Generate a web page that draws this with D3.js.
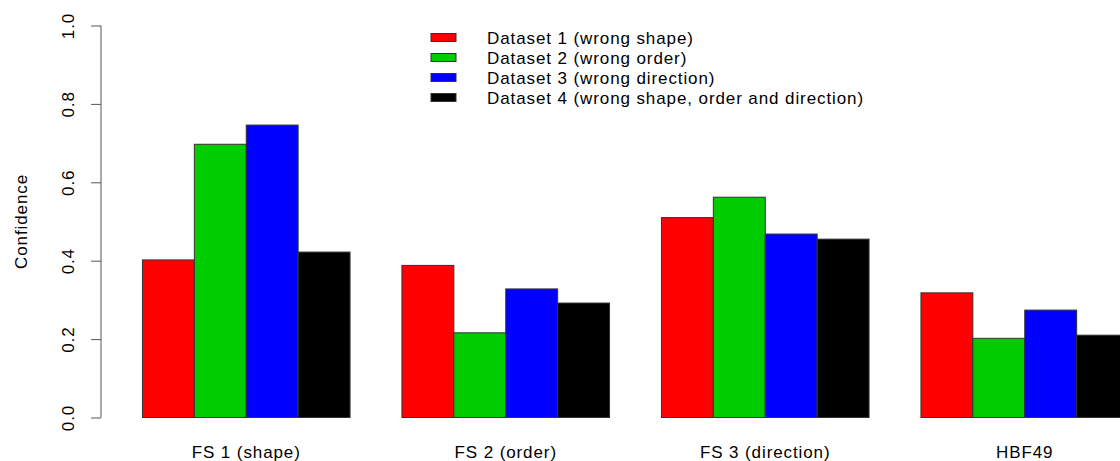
<!DOCTYPE html>
<html>
<head>
<meta charset="UTF-8">
<title>Confidence per feature set</title>
<script type="text/javascript" src="https://cdn.jsdelivr.net/npm/d3@7/dist/d3.min.js"></script>
<style>
body { margin:0; background:#fff; }
text { font-family:"Liberation Sans", Arial, sans-serif; font-size:17px; letter-spacing:0.9px; fill:#000; }
.axis path, .axis line { stroke:#555; }
</style>
</head>
<body>
<div id="chart"></div>
<script type="text/javascript">
// values
var groups = ["FS 1 (shape)", "FS 2 (order)", "FS 3 (direction)", "HBF49"];
var seriesNames = ["Dataset 1 (wrong shape)", "Dataset 2 (wrong order)", "Dataset 3 (wrong direction)", "Dataset 4 (wrong shape, order and direction)"];
var seriesColors = ["#ff0000", "#00cd00", "#0000ff", "#000000"];
var dataset1 = [0.402, 0.388, 0.510, 0.318];
var dataset2 = [0.697, 0.216, 0.562, 0.202];
var dataset3 = [0.746, 0.328, 0.468, 0.274];
var dataset4 = [0.422, 0.292, 0.455, 0.210];
var yTicks = [0, 0.2, 0.4, 0.6, 0.8, 1.0];

var width=1120, height=461;
var series=[dataset1, dataset2, dataset3, dataset4];

var svg=d3.select("#chart").append("svg").attr("width",width).attr("height",height);

// barplot(beside=TRUE) layout: one empty slot before each group of 4 bars
var x=d3.scaleLinear().domain([0.24, 20.76]).range([103, 1168]);
var y=d3.scaleLinear().domain([0, 1]).range([417.5, 25.5]);

var bars=[];
groups.forEach(function(g,gi){
  series.forEach(function(s,si){
    bars.push({group:gi, series:si, value:s[gi], slot:1+gi*5+si});
  });
});

svg.selectAll("rect.bar").data(bars).enter().append("rect")
  .attr("class","bar")
  .attr("x",function(d){return x(d.slot);})
  .attr("width",function(d){return x(d.slot+1)-x(d.slot);})
  .attr("y",function(d){return y(d.value);})
  .attr("height",function(d){return y(0)-y(d.value);})
  .attr("fill",function(d){return seriesColors[d.series];})
  .attr("stroke","#333")
  .attr("stroke-width",1);

// group labels under the bars
svg.selectAll("text.glab").data(groups).enter().append("text")
  .attr("class","glab")
  .attr("x",function(d,i){return x(1+i*5+2);})
  .attr("y",458)
  .attr("text-anchor","middle")
  .text(function(d){return d;});

// y axis, labels parallel to the axis like R does
var yAxis=d3.axisLeft(y).tickValues(yTicks).tickSize(10).tickSizeOuter(0).tickFormat(d3.format(".1f"));
var ax=svg.append("g").attr("class","axis").attr("transform","translate(101,0)").call(yAxis);
ax.select(".domain").attr("d","M0,"+y(0)+"V"+y(1));
ax.selectAll(".tick text")
  .attr("x",0).attr("y",0).attr("dy",null)
  .attr("text-anchor","middle")
  .attr("transform","translate(-27,0) rotate(-90)")
  .style("font-family","Liberation Sans, Arial, sans-serif")
  .style("font-size","17px")
  .attr("fill","#000");

svg.append("text")
  .attr("transform","translate(27,"+((y(0)+y(1))/2)+") rotate(-90)")
  .attr("text-anchor","middle")
  .text("Confidence");

// legend, no box
var leg=svg.selectAll("g.leg").data(seriesNames).enter().append("g")
  .attr("class","leg")
  .attr("transform",function(d,i){return "translate(431,"+(37.5+i*20)+")";});
leg.append("rect")
  .attr("x",0).attr("y",-4).attr("width",25).attr("height",8)
  .attr("fill",function(d,i){return seriesColors[i];})
  .attr("stroke","#333");
leg.append("text")
  .attr("x",56).attr("y",6)
  .text(function(d){return d;});
</script>
</body>
</html>
